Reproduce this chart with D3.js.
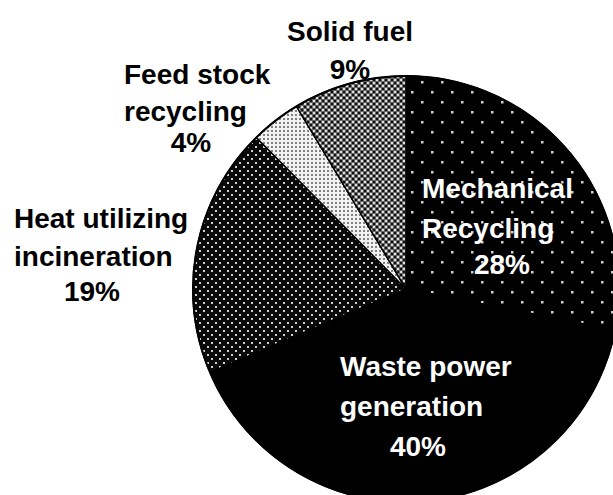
<!DOCTYPE html>
<html>
<head>
<meta charset="utf-8">
<script src="https://cdn.jsdelivr.net/npm/d3@7"></script>
<style>
  body { margin: 0; background: #fff; }
  svg { display: block; }
  .lbl { font-family: "Liberation Sans", Arial, sans-serif; font-weight: bold; font-size: 28px; }
</style>
</head>
<body>
<div id="chart"></div>
<script>
// data
const categories = ["Mechanical Recycling", "Waste power generation", "Heat utilizing incineration", "Feed stock recycling", "Solid fuel"];
const shares = [28.1, 40.5, 19.0, 3.8, 8.6];
const shareLabels = ["28%", "40%", "19%", "4%", "9%"];
const labelLines = [
  ["Mechanical", "Recycling"],
  ["Waste power", "generation"],
  ["Heat utilizing", "incineration"],
  ["Feed stock", "recycling"],
  ["Solid fuel"]
];

const width = 613, height = 495;
const cx = 406, cy = 289, radius = 213;

// where each label sits (left edge of name lines, centre of the percentage)
const labelLayout = [
  { x: 422, y: 198, step: 40, px: 502, py: 274, color: "#fff" },
  { x: 340, y: 376, step: 40, px: 418, py: 456, color: "#fff" },
  { x: 14,  y: 228, step: 38, px: 92,  py: 301, color: "#000" },
  { x: 124, y: 84,  step: 37, px: 191, py: 152, color: "#000" },
  { x: 287, y: 41,  step: 38, px: 350, py: 79,  color: "#000" }
];

const svg = d3.select("#chart").append("svg")
  .attr("width", width)
  .attr("height", height);

const defs = svg.append("defs");

// sparse white dots on black
const pMech = defs.append("pattern").attr("id", "pMech")
  .attr("patternUnits", "userSpaceOnUse").attr("width", 20).attr("height", 20)
  .attr("x", cx - 1).attr("y", 2);
pMech.append("rect").attr("width", 20).attr("height", 20).attr("fill", "#000");
pMech.append("rect").attr("x", 0).attr("y", 0).attr("width", 2.5).attr("height", 2.5).attr("fill", "#d0d0d0");
pMech.append("rect").attr("x", 10).attr("y", 10).attr("width", 2.5).attr("height", 2.5).attr("fill", "#d0d0d0");

// dense dots on black
const pHeat = defs.append("pattern").attr("id", "pHeat")
  .attr("patternUnits", "userSpaceOnUse").attr("width", 8).attr("height", 8);
pHeat.append("rect").attr("width", 8).attr("height", 8).attr("fill", "#0a0a0a");
pHeat.append("rect").attr("x", 1).attr("y", 1).attr("width", 2).attr("height", 2).attr("fill", "#d0d0d0");
pHeat.append("rect").attr("x", 5).attr("y", 5).attr("width", 2).attr("height", 2).attr("fill", "#d0d0d0");

// light dotted grid
const pFeed = defs.append("pattern").attr("id", "pFeed")
  .attr("patternUnits", "userSpaceOnUse").attr("width", 4).attr("height", 4);
pFeed.append("rect").attr("width", 4).attr("height", 4).attr("fill", "#f2f2f2");
pFeed.append("rect").attr("x", 1).attr("y", 1).attr("width", 2).attr("height", 2).attr("fill", "#808080");

// mid grey diamonds
const pSolid = defs.append("pattern").attr("id", "pSolid")
  .attr("patternUnits", "userSpaceOnUse").attr("width", 6).attr("height", 6);
pSolid.append("rect").attr("width", 6).attr("height", 6).attr("fill", "#666");
pSolid.append("rect").attr("x", 0).attr("y", 0).attr("width", 2).attr("height", 2).attr("fill", "#e0e0e0");
pSolid.append("rect").attr("x", 3).attr("y", 3).attr("width", 2).attr("height", 2).attr("fill", "#e0e0e0");
pSolid.append("rect").attr("x", 3).attr("y", 0).attr("width", 2).attr("height", 2).attr("fill", "#111");
pSolid.append("rect").attr("x", 0).attr("y", 3).attr("width", 2).attr("height", 2).attr("fill", "#111");

const fills = ["url(#pMech)", "#000", "url(#pHeat)", "url(#pFeed)", "url(#pSolid)"];

const pie = d3.pie().sort(null).value(d => d);
const arc = d3.arc().innerRadius(0).outerRadius(radius);

const g = svg.append("g").attr("transform", `translate(${cx},${cy})`);

g.selectAll("path.slice")
  .data(pie(shares))
  .enter()
  .append("path")
  .attr("class", "slice")
  .attr("d", arc)
  .attr("fill", (d, i) => fills[i])
  .attr("stroke", "#000")
  .attr("stroke-width", 1.5);

// outer rim
g.append("circle").attr("r", radius).attr("fill", "none").attr("stroke", "#000").attr("stroke-width", 2);

// labels
labelLines.forEach((lines, i) => {
  const L = labelLayout[i];
  lines.forEach((line, j) => {
    svg.append("text")
      .attr("class", "lbl")
      .attr("x", L.x)
      .attr("y", L.y + j * L.step)
      .attr("fill", L.color)
      .text(line);
  });
  svg.append("text")
    .attr("class", "lbl")
    .attr("x", L.px)
    .attr("y", L.py)
    .attr("text-anchor", "middle")
    .attr("fill", L.color)
    .text(shareLabels[i]);
});
</script>
</body>
</html>
